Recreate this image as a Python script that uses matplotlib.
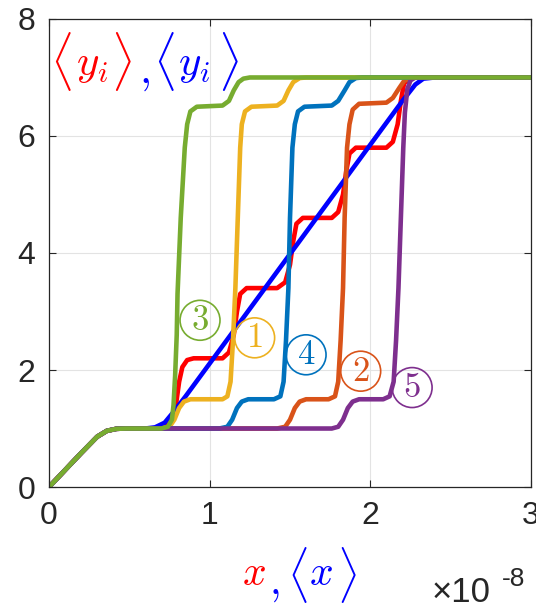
import matplotlib
matplotlib.use("Agg")
import matplotlib.pyplot as plt

plt.rcParams['mathtext.fontset'] = 'cm'
plt.rcParams['font.family'] = ['Liberation Sans', 'DejaVu Sans']

# x values in units of 1e-8
ramp_x = [0, 0.1, 0.2, 0.3, 0.36, 0.42, 0.48]
ramp_y = [0, 0.29, 0.58, 0.86, 0.96, 0.995, 1.0]

red_x = ramp_x + [0.68, 0.72, 0.76, 0.79, 0.81, 0.83, 0.86, 0.9, 1.08, 1.12, 1.15, 1.17, 1.19,
                  1.23, 1.42, 1.47, 1.5, 1.52, 1.54, 1.58, 1.76, 1.8, 1.83, 1.85, 1.87, 1.91,
                  2.1, 2.14, 2.17, 2.19, 2.21, 2.25, 3.0]
red_y = ramp_y + [1.0, 1.03, 1.15, 1.4, 1.8, 2.05, 2.17, 2.2, 2.2, 2.3, 2.6, 3.0, 3.3,
                  3.4, 3.4, 3.5, 3.8, 4.2, 4.5, 4.6, 4.6, 4.7, 5.0, 5.4, 5.7, 5.8,
                  5.8, 5.9, 6.2, 6.6, 6.9, 7.0, 7.0]

avg_x = ramp_x + [0.6, 0.66, 0.72, 0.78, 0.85, 2.2, 2.28, 2.33, 2.4, 3.0]
avg_y = ramp_y + [1.0, 1.02, 1.1, 1.3, 1.55, 6.6, 6.88, 6.98, 7.0, 7.0]

c1_x = ramp_x + [0.7, 0.75, 0.78, 0.81, 0.84, 0.88, 1.08, 1.11, 1.13, 1.145, 1.16, 1.175, 1.19,
                 1.2, 1.22, 1.26, 1.42, 1.46, 1.49, 1.52, 1.56, 1.6, 3.0]
c1_y = ramp_y + [1.0, 1.03, 1.15, 1.35, 1.46, 1.5, 1.5, 1.55, 1.8, 2.5, 3.4, 4.6, 5.8,
                 6.2, 6.42, 6.5, 6.52, 6.6, 6.78, 6.92, 6.99, 7.0, 7.0]

c2_x = ramp_x + [1.42, 1.47, 1.5, 1.53, 1.56, 1.6, 1.74, 1.78, 1.8, 1.815, 1.83, 1.84, 1.855,
                 1.87, 1.89, 1.93, 2.1, 2.14, 2.18, 2.21, 2.25, 2.3, 3.0]
c2_y = ramp_y + [1.0, 1.03, 1.15, 1.35, 1.46, 1.5, 1.5, 1.55, 1.8, 2.5, 3.4, 4.6, 5.8,
                 6.2, 6.45, 6.55, 6.57, 6.65, 6.82, 6.94, 6.99, 7.0, 7.0]

c3_x = ramp_x + [0.7, 0.74, 0.765, 0.775, 0.785, 0.795, 0.8, 0.82, 0.845, 0.86, 0.88, 0.92,
                 1.08, 1.12, 1.15, 1.18, 1.21, 1.25, 3.0]
c3_y = ramp_y + [1.0, 1.03, 1.15, 1.4, 1.9, 2.6, 3.3, 4.6, 5.8, 6.2, 6.42, 6.5,
                 6.52, 6.6, 6.78, 6.92, 6.98, 7.0, 7.0]

c4_x = ramp_x + [1.06, 1.11, 1.14, 1.17, 1.2, 1.24, 1.4, 1.44, 1.46, 1.475, 1.49, 1.5, 1.515,
                 1.53, 1.55, 1.59, 1.76, 1.8, 1.84, 1.87, 1.91, 1.95, 3.0]
c4_y = ramp_y + [1.0, 1.03, 1.15, 1.35, 1.46, 1.5, 1.5, 1.55, 1.8, 2.5, 3.4, 4.6, 5.8,
                 6.2, 6.42, 6.5, 6.52, 6.6, 6.78, 6.92, 6.99, 7.0, 7.0]

c5_x = ramp_x + [1.76, 1.8, 1.83, 1.86, 1.89, 1.93, 2.08, 2.12, 2.145, 2.16, 2.175, 2.19,
                 2.205, 2.215, 2.23, 2.25, 2.28, 3.0]
c5_y = ramp_y + [1.0, 1.03, 1.15, 1.35, 1.46, 1.5, 1.5, 1.55, 1.8, 2.5, 3.4, 4.6,
                 5.8, 6.4, 6.8, 6.95, 7.0, 7.0]

labels = ['3', '1', '4', '2', '5']
label_x = [0.94, 1.28, 1.60, 1.94, 2.26]
label_y = [2.85, 2.55, 2.26, 1.98, 1.70]
label_col = ['#77AC30', '#EDB120', '#0072BD', '#D95319', '#7E2F8E']

fig = plt.figure(figsize=(5.36, 6.10), dpi=100)
ax = fig.add_axes([0.0914, 0.2016, 0.8993, 0.7673])

lw = 3.3
ax.plot(red_x, red_y, color='#FF0000', lw=lw)
ax.plot(avg_x, avg_y, color='#0000FF', lw=lw)
ax.plot(c1_x, c1_y, color='#EDB120', lw=lw)
ax.plot(c2_x, c2_y, color='#D95319', lw=lw)
ax.plot(c4_x, c4_y, color='#0072BD', lw=lw)
ax.plot(c5_x, c5_y, color='#7E2F8E', lw=lw)
ax.plot(c3_x, c3_y, color='#77AC30', lw=lw)

for t, x, y, c in zip(labels, label_x, label_y, label_col):
    ax.text(x, y, '$' + t + '$', color=c, fontsize=25, ha='center', va='center',
            bbox=dict(boxstyle='circle,pad=0.1', fc='none', ec=c, lw=1.2))

ax.set_xlim(0, 3)
ax.set_ylim(0, 8)
ax.set_xticks([0, 1, 2, 3])
ax.set_yticks([0, 2, 4, 6, 8])
ax.grid(True, color='#e3e3e3', lw=0.8)
ax.set_axisbelow(True)
ax.tick_params(direction='in', top=True, right=True, labelsize=23, length=5,
               color='#262626', labelcolor='#262626', pad=10)
for s in ax.spines.values():
    s.set_color('#262626')
    s.set_linewidth(0.9)


def put(fx, fy, s, color, size):
    ax.text(fx, fy, s, color=color, fontsize=size, transform=ax.transAxes,
            ha='center', va='center', clip_on=False)


# y label inside the axes: <y_i> , <y_i>
put(0.025, 0.910, r'$\langle$', '#FF0000', 36)
put(0.090, 0.902, r'$y_i$', '#FF0000', 31)
put(0.150, 0.910, r'$\rangle$', '#FF0000', 36)
put(0.199, 0.885, r'$,$', '#0000FF', 31)
put(0.238, 0.910, r'$\langle$', '#0000FF', 36)
put(0.300, 0.902, r'$y_i$', '#0000FF', 31)
put(0.372, 0.910, r'$\rangle$', '#0000FF', 36)

# x label: x , <x>
put(0.425, -0.186, r'$x$', '#FF0000', 30)
put(0.468, -0.207, r'$,$', '#0000FF', 30)
put(0.515, -0.188, r'$\langle$', '#0000FF', 34)
put(0.565, -0.186, r'$x$', '#0000FF', 30)
put(0.617, -0.188, r'$\rangle$', '#0000FF', 34)

# exponent
ax.text(0.794, -0.226, '\u00d710', color='#262626', fontsize=25,
        transform=ax.transAxes, ha='left', va='center')
ax.text(0.94, -0.196, '-8', color='#262626', fontsize=19,
        transform=ax.transAxes, ha='left', va='center')

fig.savefig('out.png', dpi=100)
